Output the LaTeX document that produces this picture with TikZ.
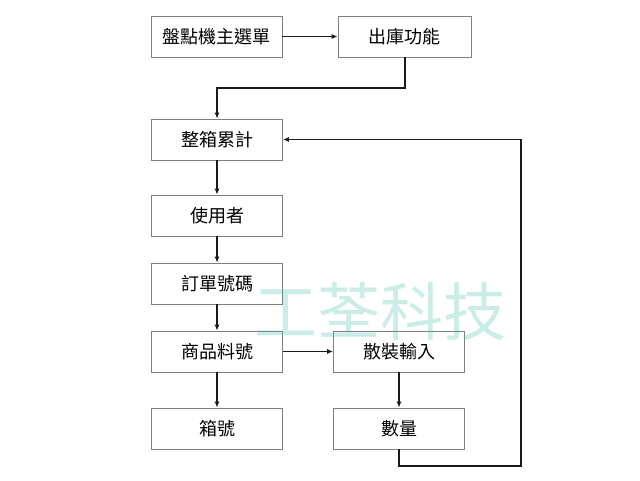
\documentclass[tikz,border=0pt]{standalone}
\usepackage{fontspec}
\newfontfamily\cjk{Noto Sans CJK TC}
\usetikzlibrary{arrows.meta}
\definecolor{boxline}{HTML}{808080}
\definecolor{wm}{HTML}{2EB8A0}
\definecolor{conn}{HTML}{1A1A1A}
\tikzset{
  box/.style={draw=boxline, line width=0.8pt, fill=white, minimum width=131pt, minimum height=41pt, inner sep=0pt, font=\cjk\fontsize{18}{20}\selectfont},
  conn/.style={draw=conn, line width=1.1pt, -{Latex[length=6pt,width=5pt]}},
  watermark/.style={text=wm, text opacity=0.25, font=\cjk\fontsize{63}{66}\selectfont, inner sep=0pt}
}
\begin{document}
\begin{tikzpicture}[x=1pt,y=-1pt]
\useasboundingbox (0,0) rectangle (640,480);
\fill[white] (0,0) rectangle (640,480);
\node[box] (a) at (216.5,36.5) {盤點機主選單};
\node[box, minimum width=133pt] (b) at (404.5,36.5) {出庫功能};
\node[box] (c) at (217,139.5) {整箱累計};
\node[box] (d) at (217,215.5) {使用者};
\node[box] (e) at (217,283.5) {訂單號碼};
\node[box] (f) at (217,351.5) {商品料號};
\node[box] (g) at (217,428.5) {箱號};
\node[box] (h) at (399,351.5) {散裝輸入};
\node[box] (i) at (399,428.5) {數量};
\coordinate (b1) at (405,88);
\coordinate (b2) at (217,88);
\coordinate (l1) at (399,466);
\coordinate (l2) at (521,466);
\coordinate (l3) at (521,139.5);
\draw[conn] (a) -- (b);
\draw[conn] (b.south -| b1) -- (b1) -- (b2) -- (c.north);
\draw[conn] (c) -- (d);
\draw[conn] (d) -- (e);
\draw[conn] (e) -- (f);
\draw[conn] (f) -- (g);
\draw[conn] (f) -- (h);
\draw[conn] (h) -- (i);
\draw[conn] (i.south) -- (l1) -- (l2) -- (l3) -- (c.east);
\node[watermark] (wm) at (380,312) {工荃科技};
\end{tikzpicture}
\end{document}
